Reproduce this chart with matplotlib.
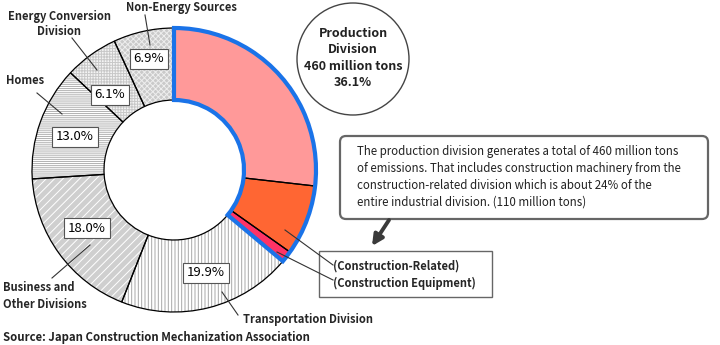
import matplotlib
matplotlib.use("Agg")
import matplotlib.pyplot as plt
from matplotlib.patches import Wedge, Circle, FancyBboxPatch, Rectangle

plt.rcParams['font.family'] = ['Noto Sans CJK JP', 'DejaVu Sans']
plt.rcParams['hatch.linewidth'] = 0.7

# CO2 emission shares (%), clockwise from 12 o'clock
sectors = ['Production (other)', 'Construction-Related', 'Construction Equipment',
           'Transportation Division', 'Business and Other Divisions', 'Homes',
           'Energy Conversion Division', 'Non-Energy Sources']
shares = [26.8, 8.0, 1.3, 19.9, 18.0, 13.0, 6.1, 6.9]
production_parts = 3  # first three slices make up the production division

pct_labels = ['19.9%', '18.0%', '13.0%', '6.1%', '6.9%']
pct_pos = [(206, 273), (87, 228), (75, 137), (110, 95), (149, 59)]

# slice styling
faces = ['#ff9999', '#ff6633', '#ff3366', 'white', '#cfcfcf', 'white', '#f4f4f4', '#cacaca']
hatches = [None, None, None, '|||||', '////', '--------', '++++++', 'xxxxxx']
hatch_cols = ['none', 'none', 'none', '#a8a8a8', 'white', '#b0b0b0', '#c8c8c8', '#eeeeee']
blue = '#1a73e8'

cx, cy, R, ring = 174, 170, 142, 72

fig = plt.figure(figsize=(7.2, 3.45), dpi=100)
ax = fig.add_axes([0, 0, 1, 1])

# y axis runs downward, so counterclock=True reads clockwise on screen
fills, _ = ax.pie(shares, radius=R, center=(cx, cy), startangle=-90, counterclock=True,
                  colors=faces, hatch=hatches, wedgeprops=dict(width=ring, linewidth=0))
for w, hc in zip(fills, hatch_cols):
    w.set_edgecolor(hc)
    w.set_linewidth(0)

ax.pie(shares, radius=R, center=(cx, cy), startangle=-90, counterclock=True,
       wedgeprops=dict(width=ring, linewidth=0.9, edgecolor='black', facecolor='none'))

# blue outline around the whole production division
prod_total = sum(shares[:production_parts])
ax.add_patch(Wedge((cx, cy), R, -90, -90 + prod_total * 3.6, width=ring, fill=False,
                   edgecolor=blue, linewidth=3.0, joinstyle='miter'))

ax.set_xlim(0, 720)
ax.set_ylim(345, 0)
ax.set_aspect('equal')
ax.axis('off')

for txt, (x, y) in zip(pct_labels, pct_pos):
    ax.text(x, y, txt, ha='center', va='center', fontsize=9.5,
            bbox=dict(boxstyle='square,pad=0.3', fc='white', ec='#555555', lw=0.8))

lead = dict(color='#333333', lw=0.8)
ax.plot([145, 150], [15, 45], **lead)
ax.plot([72, 97], [38, 70], **lead)
ax.plot([37, 62], [93, 114], **lead)
ax.plot([52, 90], [278, 245], **lead)
ax.plot([238, 222], [315, 292], **lead)
ax.plot([285, 333], [230, 265], **lead)
ax.plot([277, 333], [252, 280], **lead)

cat = dict(fontsize=8.0, fontweight='bold', color='#262626')
ax.text(181, 7, 'Non-Energy Sources', ha='center', va='center', **cat)
ax.text(59, 24, 'Energy Conversion\nDivision', ha='center', va='center',
        linespacing=1.25, **cat)
ax.text(6, 80, 'Homes', ha='left', va='center', **cat)
ax.text(3, 296, 'Business and\nOther Divisions', ha='left', va='center',
        linespacing=1.4, **cat)
ax.text(243, 319, 'Transportation Division', ha='left', va='center', **cat)
ax.text(3, 338, 'Source: Japan Construction Mechanization Association', ha='left',
        va='center', fontsize=8.2, fontweight='bold', color='#222222')

# production division summary bubble
ax.add_patch(Circle((353, 59), 56, facecolor='white', edgecolor='#444444', lw=1))
ax.text(353, 58, 'Production\nDivision\n460 million tons\n36.1%', ha='center',
        va='center', fontsize=9, fontweight='bold', linespacing=1.35, color='#222222')

# explanation callout
ax.add_patch(FancyBboxPatch((340, 136), 368, 83,
                            boxstyle='round,pad=0,rounding_size=6',
                            facecolor='white', edgecolor='#666666', lw=1.6))
ax.text(357, 177, 'The production division generates a total of 460 million tons\n'
        'of emissions. That includes construction machinery from the\n'
        'construction-related division which is about 24% of the\n'
        'entire industrial division. (110 million tons)',
        ha='left', va='center', fontsize=8.3, linespacing=1.38, color='#222222')
ax.annotate('', xy=(372, 246), xytext=(389, 220),
            arrowprops=dict(arrowstyle='-|>', color='#3a3a3a', lw=2.8,
                            mutation_scale=16, shrinkA=0, shrinkB=0))

ax.add_patch(Rectangle((319, 251), 173, 46, facecolor='white', edgecolor='#666666', lw=1))
ax.text(333, 266, '(Construction-Related)', ha='left', va='center', **cat)
ax.text(333, 283, '(Construction Equipment)', ha='left', va='center', **cat)

fig.savefig('out.png', dpi=100)
